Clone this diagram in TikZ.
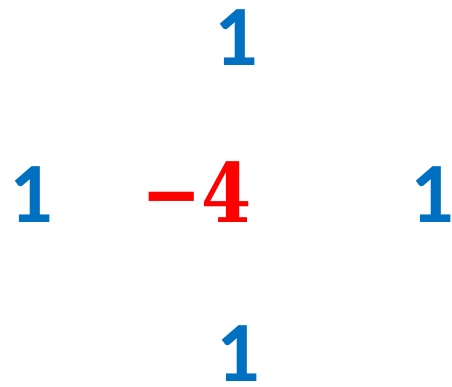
\documentclass[tikz,border=0pt]{standalone}
\usepackage{graphicx}
\usepackage[no-math]{fontspec}
\setmainfont{Carlito}
\newfontfamily\centerfont{DejaVu Serif Bold}
\definecolor{oneblue}{HTML}{0070C0}
\definecolor{fourred}{HTML}{FF0000}
\tikzset{
  onelabel/.style={text=oneblue, font=\fontsize{86}{86}\selectfont\bfseries, inner sep=0pt, anchor=base},
  centerlabel/.style={text=fourred, font=\centerfont\fontsize{82}{82}\selectfont, inner sep=0pt, anchor=base east}
}
\begin{document}
\begin{tikzpicture}[x=1pt,y=-1pt]
\useasboundingbox (0,0) rectangle (452,386);
\node[onelabel] (top) at (236.5,65) {1};
\node[onelabel] (left) at (31.5,222) {1};
\node[onelabel] (right) at (432,222) {1};
\node[onelabel] (bottom) at (238,381) {1};
\node[centerlabel] (c) at (252,222) {\scalebox{0.88}[1]{−4}};
\end{tikzpicture}
\end{document}
